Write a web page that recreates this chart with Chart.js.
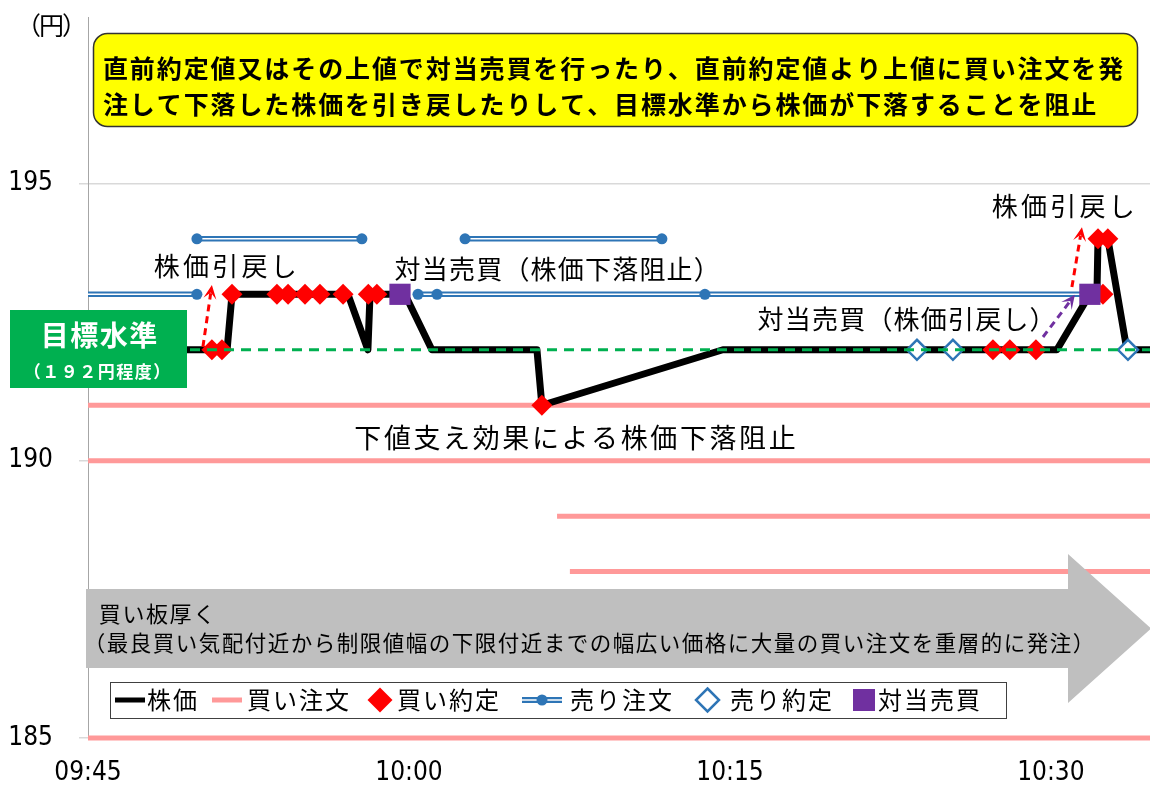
<!DOCTYPE html>
<html><head><meta charset="utf-8">
<script src="https://cdn.jsdelivr.net/npm/chart.js@4.4.1/dist/chart.umd.min.js"></script>
<style>html,body{margin:0;padding:0;background:#fff;overflow:hidden}canvas{display:block}</style>
</head><body>
<canvas id="c" width="1150" height="785"></canvas>
<script>
// ---- data (x = minutes after 09:45, y = price in yen) ----
const timeLabels = ['09:45', '10:00', '10:15', '10:30'];
const timeTicks = [0, 15, 30, 45];
const priceTicks = [185, 190, 195];
const xMax = 49.63;
const priceT = [0, 6.5, 6.73, 12.15, 13.08, 13.18, 14.81, 16.07, 20.98, 21.21, 29.67, 45.28, 46.82, 47.15, 47.2, 47.66, 48.55, 49.63];
const priceY = [192, 192, 193, 193, 192, 193, 193, 192, 192, 191, 192, 192, 193, 193, 194, 194, 192, 192];
const buyOrderY = [191, 190, 189, 188, 185];
const buyOrderStart = [0, 0, 21.92, 22.52, 0];
const buyTradeT = [5.79, 6.26, 6.73, 8.83, 9.35, 10.14, 10.84, 11.92, 13.1, 13.5, 21.21, 42.29, 43.08, 44.3, 47.43, 47.2, 47.66];
const buyTradeY = [192, 192, 193, 193, 193, 193, 193, 193, 193, 193, 191, 192, 192, 192, 193, 194, 194];
const sellOrderT = [[5.09, 12.8], [17.62, 26.82], [0, 5.09], [15.42, 16.31, 28.83, 46.36]];
const sellOrderY = [194, 194, 193, 193];
const sellOrderDot = [[1, 1], [1, 1], [0, 1], [1, 1, 1, 0]];
const sellTradeT = [38.74, 40.42, 48.6];
const sellTradeY = [192, 192, 192];
const crossT = [14.58, 46.82];
const crossY = [193, 193];
const targetLevel = 192;
const arrowFrom = [[5.37, 192.05], [45.98, 193.13], [44.63, 192.23]];
const arrowTo = [[5.79, 193.17], [46.45, 194.21], [46.12, 192.99]];
const arrowColor = ['#FF0000', '#FF0000', '#7030A0'];
const legendNames = ['株価', '買い注文', '買い約定', '売り注文', '売り約定', '対当売買'];

// ---- build library datasets ----
const pts = (ts, ys) => ts.map((t, i) => ({x: t, y: ys[i]}));
const buyOrderData = [];
buyOrderY.forEach((v, i) => {
  buyOrderData.push({x: buyOrderStart[i], y: v}, {x: xMax, y: v}, {x: xMax, y: null});
});
const sellData = [], sellRadius = [];
sellOrderT.forEach((seg, i) => {
  seg.forEach((t, j) => { sellData.push({x: t, y: sellOrderY[i]}); sellRadius.push(sellOrderDot[i][j] ? 5.5 : 0); });
  sellData.push({x: seg[seg.length - 1], y: null}); sellRadius.push(0);
});

const BLUE = '#2E75B6', RED = '#FF0000', PINK = '#FF9999', GREEN = '#00B050', PURPLE = '#7030A0';
const JP = '"Noto Sans CJK JP", "Noto Sans CJK SC", sans-serif';
const NUM = '"Liberation Sans Narrow", "DejaVu Sans Condensed", "Liberation Sans", sans-serif';

function pitched(ctx, text, left, y, size, pitch, weight, color) {
  ctx.font = weight + ' ' + size + 'px ' + JP;
  ctx.fillStyle = color; ctx.textAlign = 'center'; ctx.textBaseline = 'middle';
  [...text].forEach((ch, i) => ctx.fillText(ch, left + pitch * (i + 0.5), y));
}
function centered(ctx, text, cx, y, size, pitch, weight, color) {
  const n = [...text].length;
  pitched(ctx, text, cx - n * pitch / 2, y, size, pitch, weight, color);
}
function drawArrow(ctx, x1, y1, x2, y2, color) {
  const a = Math.atan2(y2 - y1, x2 - x1), ca = Math.cos(a), sa = Math.sin(a);
  const L = 14, W = 6.5, px = -sa, py = ca;
  ctx.save();
  ctx.strokeStyle = color; ctx.lineWidth = 3; ctx.setLineDash([7, 5]);
  ctx.beginPath(); ctx.moveTo(x1, y1); ctx.lineTo(x2 - ca * L * 0.6, y2 - sa * L * 0.6); ctx.stroke();
  ctx.setLineDash([]); ctx.fillStyle = color;
  const hx = x2 - ca * L, hy = y2 - sa * L;
  ctx.beginPath(); ctx.moveTo(x2, y2);
  ctx.lineTo(hx + px * W, hy + py * W);
  ctx.lineTo(x2 - ca * L * 0.55, y2 - sa * L * 0.55);
  ctx.lineTo(hx - px * W, hy - py * W);
  ctx.closePath(); ctx.fill();
  ctx.restore();
}

const overlay = {
  id: 'overlay',
  afterDatasetsDraw(chart) {
    const ctx = chart.ctx, xs = chart.scales.x, ys = chart.scales.y;
    ctx.save();
    arrowFrom.forEach((f, i) => {
      const t = arrowTo[i];
      drawArrow(ctx, xs.getPixelForValue(f[0]), ys.getPixelForValue(f[1]), xs.getPixelForValue(t[0]), ys.getPixelForValue(t[1]), arrowColor[i]);
    });
    // big gray arrow
    ctx.fillStyle = '#BFBFBF';
    ctx.beginPath();
    ctx.moveTo(86, 589); ctx.lineTo(1068, 589); ctx.lineTo(1068, 554); ctx.lineTo(1151, 628.5);
    ctx.lineTo(1068, 703); ctx.lineTo(1068, 668); ctx.lineTo(86, 668); ctx.closePath(); ctx.fill();
    pitched(ctx, '買い板厚く', 98, 614, 22, 23.6, 'normal', '#000');
    pitched(ctx, '（最良買い気配付近から制限値幅の下限付近までの幅広い価格に大量の買い注文を重層的に発注）', 83, 643, 21.5, 23, 'normal', '#000');
    // legend
    ctx.fillStyle = '#fff'; ctx.fillRect(110, 682, 896, 36);
    ctx.strokeStyle = '#404040'; ctx.lineWidth = 1; ctx.strokeRect(110.5, 682.5, 896, 36);
    const ly = 700;
    ctx.fillStyle = '#000'; ctx.fillRect(115, ly - 2.5, 30, 5);
    ctx.fillStyle = PINK; ctx.fillRect(212, ly - 2.5, 30, 5);
    ctx.fillStyle = RED; ctx.beginPath(); ctx.moveTo(380, ly - 12.5); ctx.lineTo(392.5, ly); ctx.lineTo(380, ly + 12.5); ctx.lineTo(367.5, ly); ctx.closePath(); ctx.fill();
    ctx.fillStyle = BLUE; ctx.fillRect(522, ly - 3, 40, 6);
    ctx.fillStyle = '#fff'; ctx.fillRect(522, ly - 0.75, 40, 1.5);
    ctx.fillStyle = BLUE; ctx.beginPath(); ctx.arc(542, ly, 5.5, 0, Math.PI * 2); ctx.fill();
    ctx.strokeStyle = BLUE; ctx.lineWidth = 2.5; ctx.fillStyle = '#fff';
    ctx.beginPath(); ctx.moveTo(707.5, ly - 11.5); ctx.lineTo(719, ly); ctx.lineTo(707.5, ly + 11.5); ctx.lineTo(696, ly); ctx.closePath(); ctx.fill(); ctx.stroke();
    ctx.fillStyle = PURPLE; ctx.fillRect(853, ly - 11, 22, 22);
    const lx = [146, 246, 396, 569, 729, 877];
    legendNames.forEach((n, i) => pitched(ctx, n, lx[i], ly, 24, 26, 'normal', '#000'));
    // target box
    ctx.fillStyle = GREEN; ctx.fillRect(10, 310, 177, 78);
    centered(ctx, '目標水準', 99, 335, 28, 29.5, 'bold', '#fff');
    centered(ctx, '（１９２円程度）', 97, 372, 17, 18.5, 'bold', '#fff');
    // yellow box
    ctx.fillStyle = '#FFFF00'; ctx.strokeStyle = '#333'; ctx.lineWidth = 1.5;
    ctx.beginPath(); ctx.roundRect(93.5, 33.5, 1044, 93, 14); ctx.fill(); ctx.stroke();
    pitched(ctx, '直前約定値又はその上値で対当売買を行ったり、直前約定値より上値に買い注文を発', 102, 68, 25, 26.9, 'bold', '#000');
    pitched(ctx, '注して下落した株価を引き戻したりして、目標水準から株価が下落することを阻止', 102, 104, 25, 26.9, 'bold', '#000');
    // annotations
    pitched(ctx, '株価引戻し', 152, 266, 26, 29.3, 'normal', '#000');
    pitched(ctx, '対当売買（株価下落阻止）', 394, 269, 26, 27.2, 'normal', '#000');
    pitched(ctx, '対当売買（株価引戻し）', 757, 319, 26, 27.2, 'normal', '#000');
    pitched(ctx, '株価引戻し', 990, 206, 26, 29.3, 'normal', '#000');
    pitched(ctx, '下値支え効果による株価下落阻止', 353, 438, 27, 29.6, 'normal', '#000');
    pitched(ctx, '（円）', 17, 25, 25, 23, 'normal', '#000');
    ctx.restore();
  }
};

new Chart(document.getElementById('c'), {
  type: 'line',
  data: {
    datasets: [
      {label: 'target', data: [{x: 0, y: targetLevel}, {x: xMax, y: targetLevel}], borderColor: GREEN, borderWidth: 3, borderDash: [10, 7], pointRadius: 0, order: 1, clip: false},
      {label: legendNames[5], data: pts(crossT, crossY), showLine: false, pointStyle: 'rect', pointRadius: 15, pointBackgroundColor: PURPLE, pointBorderWidth: 0, order: 2, clip: false},
      {label: legendNames[4], data: pts(sellTradeT, sellTradeY), showLine: false, pointStyle: 'rectRot', pointRadius: 10, pointBackgroundColor: '#fff', pointBorderColor: BLUE, pointBorderWidth: 2.5, order: 3, clip: false},
      {label: legendNames[2], data: pts(buyTradeT, buyTradeY), showLine: false, pointStyle: 'rectRot', pointRadius: 10.5, pointBackgroundColor: RED, pointBorderWidth: 0, order: 4, clip: false},
      {label: legendNames[3], data: sellData, borderColor: '#fff', borderWidth: 1.5, pointRadius: sellRadius, pointBackgroundColor: BLUE, pointBorderWidth: 0, spanGaps: false, order: 5, clip: false},
      {label: 'sellWide', data: sellData, borderColor: BLUE, borderWidth: 5.5, pointRadius: 0, spanGaps: false, order: 6, clip: false},
      {label: legendNames[0], data: pts(priceT, priceY), borderColor: '#000', borderWidth: 7, borderJoinStyle: 'round', pointRadius: 0, order: 7, clip: false},
      {label: legendNames[1], data: buyOrderData, borderColor: PINK, borderWidth: 5, pointRadius: 0, spanGaps: false, order: 8, clip: false}
    ]
  },
  options: {
    responsive: false, animation: false, devicePixelRatio: 1, events: [],
    layout: {autoPadding: false, padding: {top: 17, right: 0, left: 0, bottom: 0}},
    plugins: {legend: {display: false}, tooltip: {enabled: false}},
    scales: {
      x: {
        type: 'linear', min: 0, max: xMax,
        afterBuildTicks: s => { s.ticks = timeTicks.map(v => ({value: v})); },
        afterFit: s => { s.height = 47; s.paddingLeft = 0; s.paddingRight = 0; },
        grid: {display: false, drawTicks: false}, border: {display: false},
        ticks: {autoSkip: false, maxRotation: 0, padding: 20, color: '#000', font: {family: NUM, size: 26},
          callback: (v, i) => timeLabels[i]}
      },
      y: {
        type: 'linear', min: 185, max: 198,
        afterBuildTicks: s => { s.ticks = priceTicks.map(v => ({value: v})); },
        afterFit: s => { s.width = 88; s.paddingTop = 0; s.paddingBottom = 0; },
        grid: {color: '#d9d9d9', lineWidth: 1.5, tickLength: 9},
        border: {color: '#a6a6a6', width: 1},
        ticks: {padding: 26, color: '#000', font: {family: NUM, size: 26},
          callback: v => String(v)}
      }
    }
  },
  plugins: [overlay]
});
</script>
</body></html>
